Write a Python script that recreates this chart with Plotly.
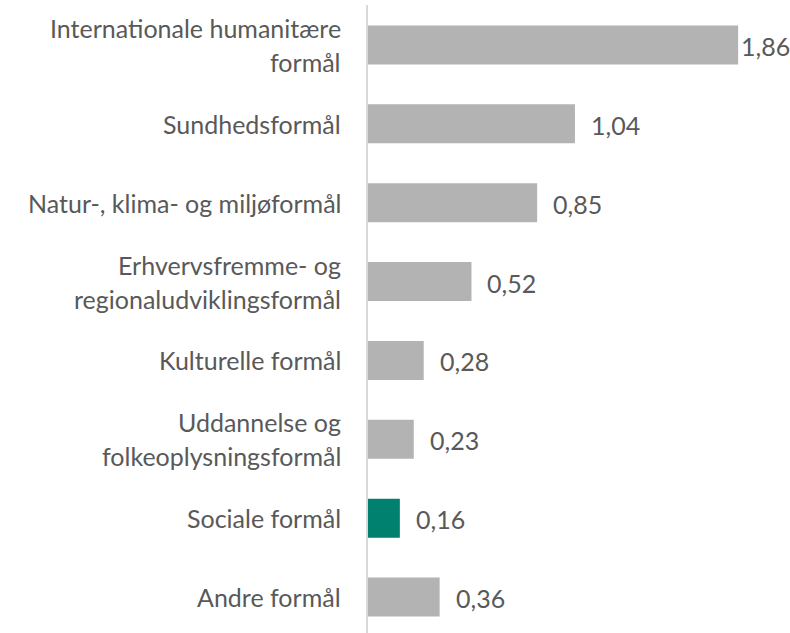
import plotly.graph_objects as go

categories = [
    "Internationale humanitære<br>formål",
    "Sundhedsformål",
    "Natur-, klima- og miljøformål",
    "Erhvervsfremme- og<br>regionaludviklingsformål",
    "Kulturelle formål",
    "Uddannelse og<br>folkeoplysningsformål",
    "Sociale formål",
    "Andre formål",
]
values = [1.86, 1.04, 0.85, 0.52, 0.28, 0.23, 0.16, 0.36]
labels = ["1,86", "1,04", "0,85", "0,52", "0,28", "0,23", "0,16", "0,36"]
highlight = "Sociale formål"

GRAY = "#b3b3b3"
TEAL = "#00806f"
TXT = "#595959"
FONT = "Lato"
FS = 25

ypos = list(range(len(categories)))
colors = [TEAL if c == highlight else GRAY for c in categories]

fig = go.Figure(go.Bar(
    x=values, y=ypos, orientation="h", width=0.495,
    marker=dict(color=colors, line=dict(width=0)),
    hoverinfo="skip",
))

annotations = []
vmax = max(values)
for y, v, lab in zip(ypos, values, labels):
    annotations.append(dict(
        x=v, y=y, xref="x", yref="y", text=lab, showarrow=False,
        xanchor="left", yanchor="middle", xshift=(1 if v == vmax else 14), yshift=-1,
        font=dict(family=FONT, size=FS, color=TXT),
    ))
for y, c in zip(ypos, categories):
    lines = c.split("<br>")
    n = len(lines)
    for i, ln in enumerate(lines):
        off = (i - (n - 1) / 2) * 34
        annotations.append(dict(
            x=0, y=y, xref="x", yref="y", text=ln, showarrow=False,
            xanchor="right", yanchor="middle", xshift=-25, yshift=-off,
            font=dict(family=FONT, size=FS, color=TXT),
        ))

fig.update_layout(
    width=790, height=633,
    margin=dict(l=368, r=24, t=5, b=0),
    paper_bgcolor="white", plot_bgcolor="white",
    showlegend=False,
    annotations=annotations,
    xaxis=dict(range=[0, 2.0], showgrid=False, zeroline=False, showticklabels=False,
               showline=False, fixedrange=True),
    yaxis=dict(range=[7.456, -0.507], showgrid=False, zeroline=False, showticklabels=False,
               showline=True, linecolor="#d9d9d9", linewidth=2, fixedrange=True),
)
fig.write_html("out.html", config={"displayModeBar": False},
               post_script="document.body.style.margin='0';")
